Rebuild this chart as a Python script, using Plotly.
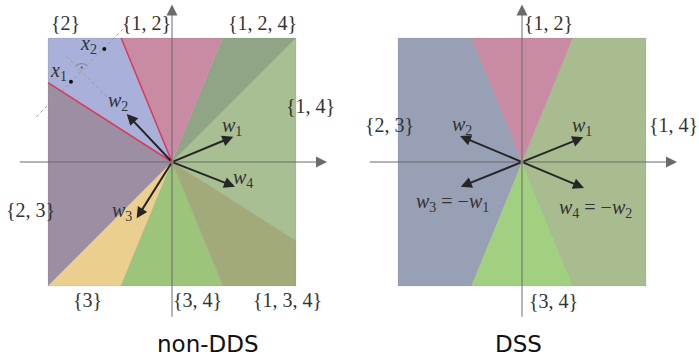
import numpy as np
import plotly.graph_objects as go

# ---------------- data ----------------
# left panel (non-DDS): regions as sectors, start angle (deg) of each, CCW order
left_sets = ["{1, 4}", "{1, 2, 4}", "{1, 2}", "{2}", "{2, 3}", "{3}", "{3, 4}", "{1, 3, 4}"]
left_start_deg = [-32.4, 45.0, 67.8, 112.3, 147.4, 225.0, 247.6, 292.4]
left_colors = ["#A8BF93", "#90A585", "#C98BA3", "#A9B0DA", "#9C8FA3", "#EBCF8E", "#9CC47A", "#A3AA7A"]
left_red_deg = [112.3, 147.4]
left_set_lx = [1.113, 0.726, -0.202, -0.855, -1.145, -0.685, 0.202, 0.935]
left_set_ly = [0.452, 1.121, 1.121, 1.121, -0.387, -1.113, -1.113, -1.113]

left_vec_names = ["1", "2", "3", "4"]
left_vec_x = [0.494, -0.365, -0.285, 0.508]
left_vec_y = [0.204, 0.387, -0.454, -0.199]
left_vec_lx = [0.484, -0.435, -0.406, 0.573]
left_vec_ly = [0.290, 0.484, -0.401, -0.129]

pt_names = ["1", "2"]
pt_x = [-0.815, -0.546]
pt_y = [0.648, 0.911]
pt_lx = [-0.919, -0.677]
pt_ly = [0.726, 0.944]

dash1_x = [-1.093, -0.355]
dash1_y = [0.365, 1.113]
dash2_x = [-0.851, -0.50]
dash2_y = [0.851, 0.50]
right_angle_center = (-0.729, 0.729)

# right panel (DSS)
right_sets = ["{1, 4}", "{1, 2}", "{2, 3}", "{3, 4}"]
right_start_deg = [-67.8, 67.8, 112.2, 247.8]
right_colors = ["#A8BC90", "#C98BA3", "#98A0B5", "#A0D080"]
right_set_lx = [1.218, 0.210, -1.065, 0.250]
right_set_ly = [0.298, 1.121, 0.298, -1.121]

right_vec_x = [0.494, -0.500, -0.494, 0.500]
right_vec_y = [0.199, 0.210, -0.199, -0.210]
right_vec_labels = ["<i>w</i><sub>1</sub>", "<i>w</i><sub>2</sub>",
                    "<i>w</i><sub>3</sub> = −<i>w</i><sub>1</sub>",
                    "<i>w</i><sub>4</sub> = −<i>w</i><sub>2</sub>"]
right_vec_lx = [0.484, -0.486, -0.560, 0.589]
right_vec_ly = [0.290, 0.298, -0.323, -0.371]

titles = ["non-DDS", "DSS"]
title_x = [0.29, -0.032]
title_y = [-1.468, -1.468]

# axis extents
ax_xmin, ax_xmax = -1.24, 1.25
ax_ymin, ax_ymax = -1.26, 1.27

# ---------------- helpers ----------------
def hit(deg):
    a = np.radians(deg)
    c, s = np.cos(a), np.sin(a)
    m = max(abs(c), abs(s))
    return c / m, s / m

def sector(a0, a1):
    xs, ys = [0.0], [0.0]
    x, y = hit(a0); xs.append(x); ys.append(y)
    for k in range(-4, 12):
        cdeg = 45 + 90 * k
        if a0 < cdeg < a1:
            x, y = hit(cdeg); xs.append(x); ys.append(y)
    x, y = hit(a1); xs.append(x); ys.append(y)
    xs.append(0.0); ys.append(0.0)
    return xs, ys

fig = go.Figure()

def add_sectors(starts, colors, xa, ya):
    n = len(starts)
    for i in range(n):
        a0 = starts[i]
        a1 = starts[(i + 1) % n]
        if a1 <= a0:
            a1 += 360
        xs, ys = sector(a0, a1)
        fig.add_trace(go.Scatter(x=xs, y=ys, fill="toself", fillcolor=colors[i],
                                 mode="lines", line=dict(width=0.6, color="rgba(80,80,80,0.15)"),
                                 xaxis=xa, yaxis=ya, hoverinfo="skip", showlegend=False))

add_sectors(left_start_deg, left_colors, "x", "y")
add_sectors(right_start_deg, right_colors, "x2", "y2")

# red boundaries
for d in left_red_deg:
    x, y = hit(d)
    fig.add_trace(go.Scatter(x=[0, x], y=[0, y], mode="lines",
                             line=dict(color="#D93A5A", width=1.5),
                             xaxis="x", yaxis="y", hoverinfo="skip", showlegend=False))

# dashed helper lines
for dx, dy in [(dash1_x, dash1_y), (dash2_x, dash2_y)]:
    fig.add_trace(go.Scatter(x=dx, y=dy, mode="lines",
                             line=dict(color="#999999", width=1, dash="dot"),
                             xaxis="x", yaxis="y", hoverinfo="skip", showlegend=False))

# right-angle mark
r = 0.065
ang = np.radians(np.linspace(45, 135, 20))
fig.add_trace(go.Scatter(x=right_angle_center[0] + r * np.cos(ang),
                         y=right_angle_center[1] + r * np.sin(ang), mode="lines",
                         line=dict(color="#777777", width=0.8),
                         xaxis="x", yaxis="y", hoverinfo="skip", showlegend=False))
fig.add_trace(go.Scatter(x=[right_angle_center[0]], y=[right_angle_center[1] + 0.033],
                         mode="markers", marker=dict(size=2, color="#555555"),
                         xaxis="x", yaxis="y", hoverinfo="skip", showlegend=False))

# points x1, x2
fig.add_trace(go.Scatter(x=pt_x, y=pt_y, mode="markers",
                         marker=dict(size=4, color="#111111"),
                         xaxis="x", yaxis="y", hoverinfo="skip", showlegend=False))

ann = []
label_font = dict(family="Liberation Serif", size=20, color="#333333")

for xr, yr in [("x", "y"), ("x2", "y2")]:
    # axes with arrowheads
    ann.append(dict(x=ax_xmax, y=0, ax=ax_xmin, ay=0, xref=xr, yref=yr, axref=xr, ayref=yr,
                    showarrow=True, arrowhead=2, arrowsize=2.2, arrowwidth=1,
                    arrowcolor="#6a6a6a", text="", standoff=0, startstandoff=0))
    ann.append(dict(x=0, y=ax_ymax, ax=0, ay=ax_ymin, xref=xr, yref=yr, axref=xr, ayref=yr,
                    showarrow=True, arrowhead=2, arrowsize=2.2, arrowwidth=1,
                    arrowcolor="#6a6a6a", text="", standoff=0, startstandoff=0))

# vectors left
for i in range(4):
    ann.append(dict(x=left_vec_x[i], y=left_vec_y[i], ax=0, ay=0, xref="x", yref="y",
                    axref="x", ayref="y", showarrow=True, arrowhead=2, arrowsize=1.1,
                    arrowwidth=2, arrowcolor="#262626", text="", standoff=0))
    ann.append(dict(x=left_vec_lx[i], y=left_vec_ly[i], xref="x", yref="y", showarrow=False,
                    text="<i>w</i><sub>%s</sub>" % left_vec_names[i], font=label_font))
# vectors right
for i in range(4):
    ann.append(dict(x=right_vec_x[i], y=right_vec_y[i], ax=0, ay=0, xref="x2", yref="y2",
                    axref="x2", ayref="y2", showarrow=True, arrowhead=2, arrowsize=1.1,
                    arrowwidth=2, arrowcolor="#262626", text="", standoff=0))
    ann.append(dict(x=right_vec_lx[i], y=right_vec_ly[i], xref="x2", yref="y2", showarrow=False,
                    text=right_vec_labels[i], font=label_font))

# point labels
for i in range(2):
    ann.append(dict(x=pt_lx[i], y=pt_ly[i], xref="x", yref="y", showarrow=False,
                    text="<i>x</i><sub>%s</sub>" % pt_names[i], font=label_font))

# set labels
for i, s in enumerate(left_sets):
    ann.append(dict(x=left_set_lx[i], y=left_set_ly[i], xref="x", yref="y",
                    showarrow=False, text=s, font=label_font))
for i, s in enumerate(right_sets):
    ann.append(dict(x=right_set_lx[i], y=right_set_ly[i], xref="x2", yref="y2",
                    showarrow=False, text=s, font=label_font))

# titles
for i, t in enumerate(titles):
    xr = "x" if i == 0 else "x2"
    yr = "y" if i == 0 else "y2"
    ann.append(dict(x=title_x[i], y=title_y[i], xref=xr, yref=yr, showarrow=False,
                    borderpad=0,
                    text=t, font=dict(family="DejaVu Sans", size=23, color="#111111")))

xr = [-172 / 124, 177 / 124]
yr = [-195 / 124, 162 / 124]
axis_common = dict(visible=False, showgrid=False, zeroline=False, fixedrange=True)
fig.update_layout(
    width=699, height=357,
    margin=dict(l=0, r=0, t=0, b=0),
    paper_bgcolor="white", plot_bgcolor="white",
    xaxis=dict(domain=[0, 349 / 699], range=xr, **axis_common),
    xaxis2=dict(domain=[350 / 699, 1], range=xr, **axis_common),
    yaxis=dict(domain=[0, 1], range=yr, anchor="x", **axis_common),
    yaxis2=dict(domain=[0, 1], range=yr, anchor="x2", **axis_common),
    annotations=ann,
    showlegend=False,
)

fig.write_html("out.html", config={"displayModeBar": False},
               post_script="document.body.style.margin='0px';document.body.style.overflow='hidden';")
